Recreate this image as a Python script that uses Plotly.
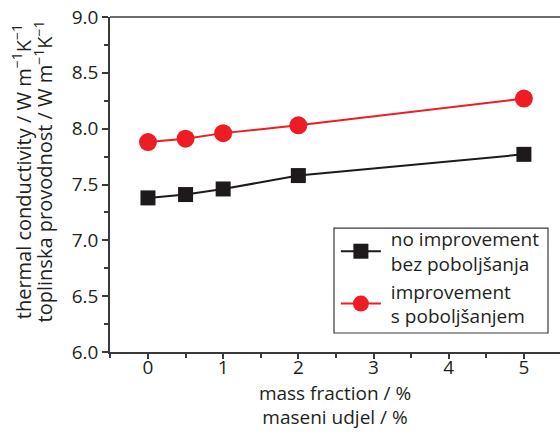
import plotly.graph_objects as go

mass_fraction = [0, 0.5, 1, 2, 5]
no_improvement = [7.38, 7.41, 7.46, 7.58, 7.77]
improvement = [7.88, 7.91, 7.96, 8.03, 8.27]

series_names = ["no improvement<br>bez poboljšanja", "improvement<br>s poboljšanjem"]
x_ticks = [0, 1, 2, 3, 4, 5]
y_ticks = [6.0, 6.5, 7.0, 7.5, 8.0, 8.5, 9.0]
y_title_lines = [
    "thermal conductivity / W m<sup>−1</sup>K<sup>−1</sup>",
    "toplinska provodnost / W m<sup>−1</sup>K<sup>−1</sup>",
]

FONT = "Open Sans"
AXIS_COLOR = "#3a3a3a"
TEXT_COLOR = "#231f20"

def legend_label(name):
    # small indent between the legend symbol and each text line
    return "<br>".join("\u00a0" + part for part in name.split("<br>"))

fig = go.Figure()
fig.add_trace(go.Scatter(
    x=mass_fraction, y=no_improvement, name=legend_label(series_names[0]),
    mode="lines+markers",
    line=dict(color="#1e1a1b", width=2),
    marker=dict(symbol="square", size=15, color="#1e1a1b"),
))
fig.add_trace(go.Scatter(
    x=mass_fraction, y=improvement, name=legend_label(series_names[1]),
    mode="lines+markers",
    line=dict(color="#ee1c25", width=2),
    marker=dict(symbol="circle", size=18, color="#ee1c25"),
))

fig.update_layout(
    width=560, height=433,
    margin=dict(l=110, r=0, t=17, b=81),
    paper_bgcolor="white", plot_bgcolor="white",
    font=dict(family=FONT, size=18, color=TEXT_COLOR),
    showlegend=True,
    legend=dict(
        x=0.502, y=0.394, xanchor="left", yanchor="top",
        borderwidth=0, bgcolor="rgba(0,0,0,0)",
        font=dict(family=FONT, size=19, color=TEXT_COLOR),
        tracegroupgap=6, itemwidth=40,
    ),
)

# legend frame
fig.add_shape(type="rect", xref="paper", yref="paper",
              x0=0.4978, x1=0.9733, y0=0.0567, y1=0.370,
              line=dict(color=AXIS_COLOR, width=1.2), fillcolor="white", layer="below")

fig.update_xaxes(
    range=[-0.505, 5.48], tickvals=x_ticks,
    ticktext=[str(v) for v in x_ticks],
    showgrid=False, zeroline=False,
    showline=True, linecolor=AXIS_COLOR, linewidth=1.5,
    ticks="outside", ticklen=5, tickcolor=AXIS_COLOR, tickwidth=1.5,
    minor=dict(dtick=0.5, ticks="outside", ticklen=4, tickcolor=AXIS_COLOR, tickwidth=1.5, showgrid=False),
    tickfont=dict(size=19), ticklabelstandoff=-8,
    title=dict(text="mass fraction / %<br>maseni udjel / %", font=dict(size=19), standoff=6),
)
fig.update_yaxes(
    range=[6.0, 9.0], tickvals=y_ticks,
    ticktext=[f"{v:.1f}" for v in y_ticks],
    showgrid=False, zeroline=False,
    showline=True, linecolor=AXIS_COLOR, linewidth=1.5,
    ticks="outside", ticklen=6, tickcolor=AXIS_COLOR, tickwidth=1.5,
    minor=dict(dtick=0.25, ticks="outside", ticklen=4, tickcolor=AXIS_COLOR, tickwidth=1.5, showgrid=False),
    tickfont=dict(size=19),
)

# two-line rotated y-axis title
for xpos, line in zip([-0.196, -0.149], y_title_lines):
    fig.add_annotation(
        text=line, xref="paper", yref="paper", x=xpos, y=0.539,
        xanchor="center", yanchor="middle", textangle=-90,
        showarrow=False, font=dict(family=FONT, size=20, color=TEXT_COLOR),
    )

# top frame line across the full plot width
fig.add_shape(type="line", xref="paper", yref="paper", x0=0, x1=1, y0=1, y1=1,
              line=dict(color=AXIS_COLOR, width=1.5))

fig.write_html("out.html")
